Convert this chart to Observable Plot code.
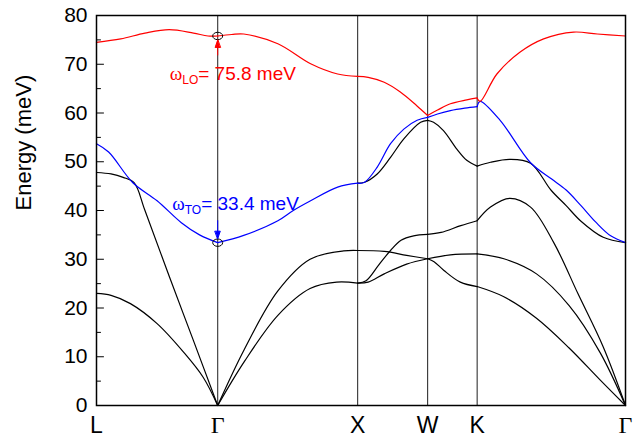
<!DOCTYPE html>
<html><head><meta charset="utf-8">
<script src="https://cdn.jsdelivr.net/npm/d3@7"></script>
<script src="https://cdn.jsdelivr.net/npm/@observablehq/plot@0.6"></script>
<style>body{margin:0;background:#fff} svg{display:block}</style>
</head><body><div id="chart"></div>
<script>
// High-symmetry points along the path (k-path distance)
const pointLabels = ["L", "Γ", "X", "W", "K", "Γ"];
const pointPos = [0, 0.866, 1.866, 2.366, 2.72, 3.78];
const yTicks = [0, 10, 20, 30, 40, 50, 60, 70, 80];
const yMinor = [5, 15, 25, 35, 45, 55, 65, 75];
const wLO = 75.8, wTO = 33.4;
const loText = ["ω", "LO", "= 75.8 meV"];
const toText = ["ω", "TO", "= 33.4 meV"];
const yTitle = "Energy (meV)";

// each segment: branches with [fraction along segment, energy meV]
const segLG = [
  {mode: "LO", p: [[0,74.5],[0.2,75.2],[0.4,76.4],[0.6,77.1],[0.8,76.4],[0.92,75.8],[1,75.8]]},
  {mode: "TO", p: [[0,53.7],[0.1,52.0],[0.3,45.7],[0.5,42.0],[0.7,37.5],[0.85,35.0],[1,33.4]]},
  {mode: "ac", p: [[0,47.8],[0.12,47.5],[0.22,46.8],[0.31,45.7],[0.4,40.0],[0.6,26.5],[0.8,13.3],[1,0]]},
  {mode: "ac", p: [[0,23.0],[0.12,22.6],[0.28,20.9],[0.5,16.8],[0.72,10.9],[0.88,5.8],[1,0]]}
];
const segGX = [
  {mode: "LO", p: [[0,75.8],[0.1,76.1],[0.186,76.2],[0.43,74.2],[0.664,70.1],[0.857,68.0],[1,67.5]]},
  {mode: "TO", p: [[0,33.4],[0.186,34.9],[0.43,37.9],[0.54,40.0],[0.664,42.0],[0.857,44.8],[1,45.6]]},
  {mode: "ac", p: [[0,0],[0.19,11.5],[0.43,23.5],[0.66,30.0],[0.9,31.7],[1,31.8]]},
  {mode: "ac", p: [[0,0],[0.19,9.0],[0.43,18.5],[0.66,24.0],[0.85,25.3],[1,25.1]]}
];
const segXW = [
  {mode: "LO", p: [[0,67.5],[0.15,67.3],[0.38,66.3],[0.61,64.3],[0.845,61.5],[1,59.5]]},
  {mode: "TO", p: [[0,45.6],[0.1,45.8],[0.28,48.9],[0.47,53.7],[0.66,56.7],[0.85,58.5],[1,59.1]]},
  {mode: "ac", p: [[0,45.6],[0.1,45.8],[0.28,47.5],[0.47,50.9],[0.66,54.7],[0.9,58.1],[1,58.5]]},
  {mode: "ac", p: [[0,31.8],[0.38,31.6],[0.7,30.8],[1,30.1]]},
  {mode: "ac", p: [[0,25.1],[0.15,25.3],[0.38,27.0],[0.7,29.0],[1,30.1]]},
  {mode: "ac", p: [[0,25.1],[0.12,25.6],[0.3,28.8],[0.47,31.8],[0.62,33.9],[0.8,34.8],[1,35.1]]}
];
const segWK = [
  {mode: "LO", p: [[0,59.5],[0.2,60.6],[0.46,61.9],[0.79,62.7],[1,63.1]]},
  {mode: "TO", p: [[0,59.1],[0.2,59.8],[0.46,60.5],[0.75,61.0],[1,61.3]]},
  {mode: "ac", p: [[0,58.5],[0.12,58.1],[0.32,56.4],[0.59,52.6],[0.79,50.3],[1,49.1]]},
  {mode: "ac", p: [[0,35.1],[0.27,35.5],[0.67,36.9],[1,37.9]]},
  {mode: "ac", p: [[0,30.1],[0.46,30.9],[1,31.1]]},
  {mode: "ac", p: [[0,30.1],[0.13,29.5],[0.33,27.7],[0.66,25.3],[1,24.4]]}
];
const segKG = [
  {mode: "LO", p: [[0,63.0],[0.02,62.4],[0.133,68.0],[0.29,72.5],[0.448,75.2],[0.65,76.6],[0.81,76.2],[1,75.8]]},
  {mode: "TO", p: [[0,61.3],[0.02,62.4],[0.155,58.5],[0.36,49.8],[0.5,46.5],[0.6,44.2],[0.7,41.0],[0.8,37.6],[0.9,34.8],[1,33.4]]},
  {mode: "ac", p: [[0,49.1],[0.09,49.9],[0.22,50.5],[0.36,49.7],[0.5,44.1],[0.6,41.0],[0.7,37.8],[0.85,34.5],[1,33.4]]},
  {mode: "ac", p: [[0,37.9],[0.09,40.7],[0.22,42.5],[0.36,40.7],[0.52,33.2],[0.68,22.9],[0.85,12.0],[1,0]]},
  {mode: "ac", p: [[0,31.1],[0.18,30.1],[0.4,27.0],[0.62,20.5],[0.83,10.8],[1,0]]},
  {mode: "ac", p: [[0,24.4],[0.18,22.3],[0.4,17.9],[0.62,11.8],[0.83,5.2],[1,0]]}
];
const segments = [segLG, segGX, segXW, segWK, segKG];

const modeColor = {LO: "#ff0000", TO: "#0000ff", ac: "#000000"};

const rows = [];
segments.forEach((seg, s) => {
  const k0 = pointPos[s], k1 = pointPos[s + 1];
  seg.forEach((b, bi) => {
    b.p.forEach(([t, e]) => rows.push({k: k0 + t * (k1 - k0), E: e, mode: b.mode, id: s + "-" + bi}));
  });
});

const tickShape = {draw(ctx, l) { ctx.moveTo(0, 0); ctx.lineTo(0, -l); }};
const arrowShape = {draw(ctx, l) {
  ctx.moveTo(0, 0); ctx.lineTo(0, -l + 6);
  ctx.moveTo(0, -l); ctx.lineTo(-2.6, -l + 7.5); ctx.lineTo(2.6, -l + 7.5); ctx.closePath();
}};
const ellipseSymbol = {draw(ctx, size) {
  const r = Math.sqrt(size / Math.PI), rx = r * 1.16, ry = r * 0.86, c = 0.5523;
  ctx.moveTo(rx, 0);
  ctx.bezierCurveTo(rx, ry * c, rx * c, ry, 0, ry);
  ctx.bezierCurveTo(-rx * c, ry, -rx, ry * c, -rx, 0);
  ctx.bezierCurveTo(-rx, -ry * c, -rx * c, -ry, 0, -ry);
  ctx.bezierCurveTo(rx * c, -ry, rx, -ry * c, rx, 0);
  ctx.closePath();
}};

const G = pointPos[1];
const sansIdx = [0, 2, 3, 4];
const gammaIdx = [1, 5];

const lineMarks = ["ac", "TO", "LO"].map(m =>
  Plot.line(rows.filter(r => r.mode === m), {x: "k", y: "E", z: "id", stroke: modeColor[m], strokeWidth: 1.2, curve: "catmull-rom"})
);

const plot = Plot.plot({
  width: 638, height: 438,
  marginLeft: 96, marginRight: 13, marginTop: 15, marginBottom: 33,
  style: {fontFamily: "'Liberation Sans', Arial, sans-serif", background: "#fff", color: "#000"},
  x: {domain: [pointPos[0], pointPos[pointPos.length - 1]]},
  y: {domain: [0, 80]},
  marks: [
    Plot.ruleX(pointPos.slice(1, -1), {stroke: "#333", strokeWidth: 1.1}),
    ...lineMarks,
    Plot.dot([wLO, wTO], {x: () => G, y: d => d, r: 4.3, symbol: ellipseSymbol, stroke: "#000", strokeWidth: 1, fill: "none"}),
    Plot.vector([wLO], {x: () => G, y: d => d, length: 15, rotate: 0, anchor: "end", dy: 4, shape: arrowShape, stroke: "#ff0000", fill: "#ff0000", strokeWidth: 1}),
    Plot.vector([wTO], {x: () => G, y: d => d, length: 18, rotate: 180, anchor: "end", dy: -4, shape: arrowShape, stroke: "#0000ff", fill: "#0000ff", strokeWidth: 1}),
    Plot.text([wLO], {x: () => G, y: d => d, text: () => loText.join(""), textAnchor: "start", dx: -48, dy: 38.4, fill: "#ff0000", fontSize: 19, className: "lo-label"}),
    Plot.text([wTO], {x: () => G, y: d => d, text: () => toText.join(""), textAnchor: "start", dx: -45.5, dy: -38.8, fill: "#0000ff", fontSize: 19, className: "to-label"}),
    Plot.vector(yTicks, {x: () => pointPos[0], y: d => d, length: 7, rotate: 90, anchor: "start", shape: tickShape, stroke: "#000", strokeWidth: 1}),
    Plot.vector(yMinor, {x: () => pointPos[0], y: d => d, length: 4, rotate: 90, anchor: "start", shape: tickShape, stroke: "#000", strokeWidth: 1}),
    Plot.axisY(yTicks, {tickSize: 0, tickPadding: 9, fontSize: 21, label: null}),
    Plot.axisX(sansIdx.map(i => pointPos[i]), {tickSize: 0, tickPadding: 11, fontSize: 23, label: null, tickFormat: d => pointLabels[pointPos.indexOf(d)]}),
    Plot.axisX(gammaIdx.map(i => pointPos[i]), {tickSize: 0, tickPadding: 10, fontSize: 24, fontFamily: "'Liberation Serif', 'Times New Roman', serif", label: null, tickFormat: d => pointLabels[pointPos.lastIndexOf(d)]}),
    Plot.text([yTitle], {frameAnchor: "left", dx: -73, rotate: -90, fontSize: 22, fill: "#000"}),
    Plot.frame({stroke: "#000", strokeWidth: 1.5})
  ]
});

function subscriptLabel(cls, parts) {
  d3.select(plot).selectAll("." + cls + " text").each(function() {
    const t = d3.select(this);
    t.text(null);
    t.append("tspan").attr("font-family", "'Liberation Serif', 'Times New Roman', serif").text(parts[0]);
    t.append("tspan").attr("font-size", 12).attr("dy", 4).text(parts[1]);
    t.append("tspan").attr("dy", -4).text(parts[2]);
  });
}
subscriptLabel("lo-label", loText);
subscriptLabel("to-label", toText);

document.getElementById("chart").appendChild(plot);
</script>
</body></html>
